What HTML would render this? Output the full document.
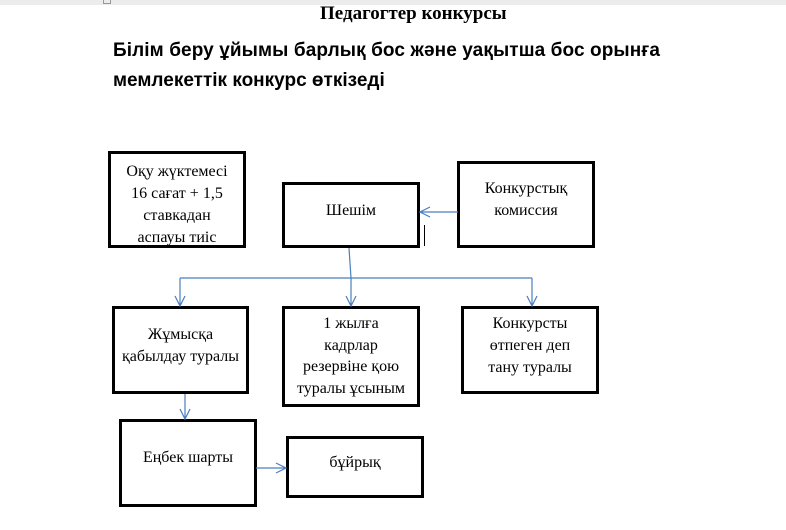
<!DOCTYPE html>
<html><head><meta charset="utf-8"><style>
body{margin:0;width:786px;height:530px;background:#fff;position:relative;overflow:hidden;font-family:"Liberation Serif",serif;}
.t{position:absolute;white-space:nowrap;color:#000}
.b{position:absolute;border:3px solid #000;box-sizing:border-box;text-align:center;font-size:16px;line-height:22px;color:#000}
</style></head><body>
<div style="position:absolute;left:0;top:0;width:786px;height:5px;background:#ececec"></div>
<div style="position:absolute;left:103px;top:0;width:6px;height:3px;border:1px solid #999;border-top:none"></div>
<div class="t" style="left:320px;top:3px;font-size:19px;font-weight:bold">Педагогтер конкурсы</div>
<div class="t" style="left:113px;top:40px;font-size:19px;font-weight:bold;font-family:'Liberation Sans',sans-serif;letter-spacing:0.1px">Білім беру ұйымы барлық бос және уақытша бос орынға</div>
<div class="t" style="left:113px;top:70px;font-size:19px;font-weight:bold;font-family:'Liberation Sans',sans-serif">мемлекеттік конкурс өткізеді</div>

<div class="b" style="left:108px;top:151px;width:138px;height:97px;padding-top:7px">Оқу жүктемесі<br>16 сағат + 1,5<br>ставкадан<br>аспауы тиіс</div>
<div class="b" style="left:282px;top:182px;width:138px;height:66px;padding-top:15px">Шешім</div>
<div class="b" style="left:457px;top:161px;width:138px;height:87px;padding-top:14px">Конкурстық<br>комиссия</div>
<div class="b" style="left:112px;top:306px;width:137px;height:88px;padding-top:15px">Жұмысқа<br>қабылдау туралы</div>
<div class="b" style="left:282px;top:306px;width:138px;height:101px;padding-top:4px;line-height:21.5px">1 жылға<br>кадрлар<br>резервіне қою<br>туралы ұсыным</div>
<div class="b" style="left:461px;top:306px;width:138px;height:88px;padding-top:4px">Конкурсты<br>өтпеген деп<br>тану туралы</div>
<div class="b" style="left:119px;top:419px;width:138px;height:88px;padding-top:25px">Еңбек шарты</div>
<div class="b" style="left:286px;top:436px;width:138px;height:62px;padding-top:13px">бұйрық</div>

<svg style="position:absolute;left:0;top:0" width="786" height="530">
<g stroke="#4a7ebf" stroke-width="1.2" fill="none">
<path d="M349,248 L351,278"/>
<path d="M180,278 L532,278"/>
<path d="M180,278 L180,306 M175,296 L180,306 L185,296"/>
<path d="M351,278 L351,306 M346,296 L351,306 L356,296"/>
<path d="M532,278 L532,306 M527,296 L532,306 L537,296"/>
<path d="M458,212 L420,212 M430,207 L420,212 L430,217"/>
<path d="M185,394 L185,419 M180,409 L185,419 L190,409"/>
<path d="M256,468 L286,468 M276,463 L286,468 L276,473"/>
</g>
<path d="M424.5,225 L424.5,246" stroke="#000" stroke-width="1"/>
</svg>
</body></html>
